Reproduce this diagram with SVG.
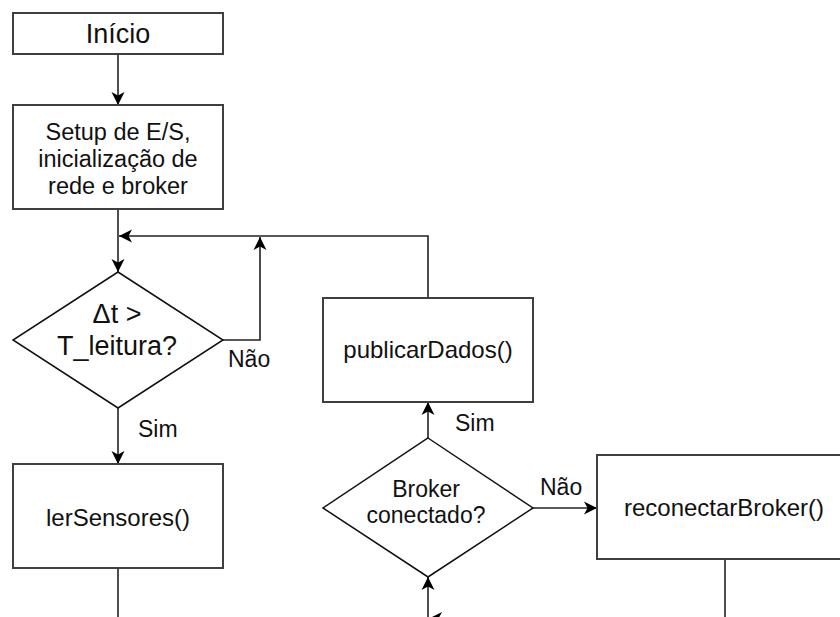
<svg xmlns="http://www.w3.org/2000/svg" width="840" height="617" viewBox="0 0 840 617">
<style>
.box{fill:#fff;stroke:#3f3f3f;stroke-width:2}
.dia{fill:#fff;stroke:#111;stroke-width:1.5}
.t{font-family:"Liberation Sans",Arial,sans-serif;fill:#111;text-anchor:middle}
.lbl{font-family:"Liberation Sans",Arial,sans-serif;fill:#111;font-size:23px}
.c{fill:none;stroke:#222;stroke-width:1.6}
</style>
<defs>
<marker id="arr" markerUnits="userSpaceOnUse" markerWidth="14" markerHeight="14" viewBox="0 0 14 14" refX="13" refY="7" orient="auto">
<path d="M0,0.5 L13,7 L0,13.5 L3.5,7 z" fill="#000"/>
</marker>
</defs>
<rect width="840" height="617" fill="#fff"/>
<g id="connectors">
<path class="c" d="M118,54 V105" marker-end="url(#arr)"/>
<path class="c" d="M118,209 V272" marker-end="url(#arr)"/>
<path class="c" d="M223,340 H260 V237" marker-end="url(#arr)"/>
<path class="c" d="M428,298 V236 H119" marker-end="url(#arr)"/>
<path class="c" d="M118,408 V464" marker-end="url(#arr)"/>
<path class="c" d="M118,568 V617"/>
<path class="c" d="M428,438 V402" marker-end="url(#arr)"/>
<path class="c" d="M533,508 H597" marker-end="url(#arr)"/>
<path class="c" d="M725,559 V617"/>
<path class="c" d="M428,617 V577" marker-end="url(#arr)"/>
<path class="c" d="M480,618.5 H429" marker-end="url(#arr)"/>
<text class="lbl" x="228" y="367">Não</text>
<text class="lbl" x="138" y="437">Sim</text>
<text class="lbl" x="455" y="431">Sim</text>
<text class="lbl" x="540" y="495">Não</text>
</g>
<g id="inicio">
<rect class="box" x="13" y="13" width="210" height="41"/>
<text class="t" x="118" y="43" font-size="27">Início</text>
</g>
<g id="setup">
<rect class="box" x="13" y="105" width="210" height="104"/>
<text class="t" x="118" y="140" font-size="23.5">Setup de E/S,</text>
<text class="t" x="118" y="167" font-size="23.5">inicialização de</text>
<text class="t" x="118" y="194" font-size="23.5">rede e broker</text>
</g>
<g id="decisao-tempo">
<polygon class="dia" points="118,272 223,340 118,408 13,340"/>
<text class="t" x="117" y="323" font-size="27">Δt &gt;</text>
<text class="t" x="117" y="355" font-size="27">T_leitura?</text>
</g>
<g id="lerSensores">
<rect class="box" x="13" y="464" width="210" height="104"/>
<text class="t" x="118" y="526" font-size="24">lerSensores()</text>
</g>
<g id="publicarDados">
<rect class="box" x="323" y="298" width="210" height="104"/>
<text class="t" x="428" y="358" font-size="24">publicarDados()</text>
</g>
<g id="decisao-broker">
<polygon class="dia" points="428,438 533,508 428,577 323,508"/>
<text class="t" x="426" y="497" font-size="23">Broker</text>
<text class="t" x="426" y="523" font-size="23">conectado?</text>
</g>
<g id="reconectarBroker">
<rect class="box" x="597" y="455" width="256" height="104"/>
<text class="t" x="724" y="516" font-size="24">reconectarBroker()</text>
</g>
</svg>
